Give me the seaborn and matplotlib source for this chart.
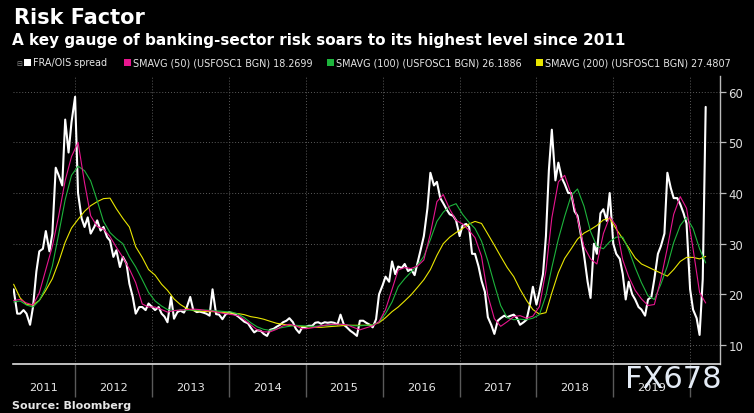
## Risk Factor chart: FRA/OIS spread with its 50/100/200 day moving averages

import pandas as pd
import numpy as np
import seaborn as sns
import matplotlib
matplotlib.use("Agg")
from matplotlib import pyplot as plt
import matplotlib.dates as mdates
from matplotlib.patches import Rectangle

spread_2011 = [21.0, 16.2, 16.2, 16.9, 16.2, 14.0, 17.5, 24.5, 28.5, 29.0, 32.5, 28.5, 32.0, 45.0, 43.5, 41.5, 54.5, 48.0, 54.0]
spread_2012 = [59.0, 40.0, 35.0, 33.3, 35.2, 32.0, 33.3, 34.6, 32.6, 33.3, 31.3, 30.6, 27.4, 28.7, 25.4, 27.4, 26.1, 22.1, 19.5, 16.2, 17.5, 17.5, 16.9, 18.2]
spread_2013 = [17.5, 16.9, 17.5, 16.2, 15.6, 14.5, 19.5, 15.2, 16.5, 16.8, 16.4, 17.5, 19.5, 17.0, 16.5, 16.6, 16.4, 16.2, 15.8, 21.0, 16.1, 16.0, 15.1, 16.0]
spread_2014 = [16.5, 16.3, 16.0, 15.6, 15.1, 14.6, 14.3, 13.4, 12.5, 12.9, 12.8, 12.2, 11.8, 13.0, 13.2, 13.6, 14.0, 14.5, 14.8, 15.3, 14.5, 13.2, 12.4, 13.5]
spread_2015 = [13.6, 13.8, 13.8, 14.4, 14.5, 14.2, 14.5, 14.4, 14.5, 14.4, 14.1, 16.0, 14.0, 13.5, 12.8, 12.4, 11.8, 14.8, 14.8, 14.4, 14.0, 13.5, 15.1, 20.0]
spread_2016 = [21.8, 23.5, 22.5, 26.5, 24.0, 25.5, 25.2, 26.0, 24.6, 25.0, 23.8, 26.2, 29.0, 31.5, 37.0, 44.0, 41.5, 42.2, 39.0, 38.0, 36.7, 35.8, 35.5, 34.6]
spread_2017 = [31.5, 33.6, 33.9, 33.3, 28.0, 28.0, 25.5, 22.7, 20.5, 15.5, 13.9, 12.2, 14.8, 15.3, 15.8, 15.5, 15.8, 16.0, 15.3, 14.0, 14.5, 15.0, 18.0, 21.5]
spread_2018 = [18.0, 20.5, 24.0, 31.5, 44.5, 52.5, 42.5, 46.0, 43.0, 41.8, 40.0, 40.0, 36.4, 35.5, 31.5, 27.8, 22.5, 19.3, 30.0, 28.0, 36.0, 36.8, 34.5, 40.0]
spread_2019 = [30.0, 28.0, 27.0, 24.0, 19.0, 22.5, 20.0, 19.0, 17.5, 17.0, 15.8, 19.0, 19.5, 23.0, 28.0, 29.5, 32.0, 44.0, 41.0, 39.0, 39.0, 37.8, 36.0, 34.0]
spread_2020 = [21.0, 17.0, 15.3, 12.0, 23.0, 57.0]

# moving averages in the middle of every month
sma50_2011 = [18.8, 19.0, 18.3, 17.9, 20.3, 24.9, 29.5, 35.5, 42.5, 47.2]
sma50_2012 = [50.0, 42.0, 35.5, 33.4, 32.9, 31.4, 29.3, 27.3, 25.0, 22.3, 18.1, 17.5]
sma50_2013 = [17.5, 17.0, 16.5, 16.8, 16.9, 17.0, 17.1, 17.0, 16.8, 16.7, 16.4, 16.2]
sma50_2014 = [16.0, 15.8, 15.0, 14.0, 13.0, 12.6, 12.6, 13.1, 13.8, 14.1, 13.8, 13.2]
sma50_2015 = [13.3, 13.5, 13.8, 14.0, 14.1, 14.1, 14.0, 13.5, 13.0, 13.4, 13.8, 14.6]
sma50_2016 = [17.0, 21.0, 24.8, 25.3, 25.1, 25.6, 26.8, 32.0, 38.3, 39.7, 36.8, 34.6]
sma50_2017 = [33.9, 32.6, 31.2, 27.5, 19.8, 15.2, 13.7, 14.6, 15.6, 15.8, 15.3, 15.7]
sma50_2018 = [17.6, 24.7, 35.1, 42.2, 43.5, 39.8, 34.9, 29.4, 27.0, 26.0, 32.0, 35.3]
sma50_2019 = [33.5, 26.8, 23.5, 20.8, 19.1, 17.8, 18.0, 23.0, 29.2, 35.8, 39.3, 37.0]
sma50_2020 = [29.0, 20.4, 18.3]

sma100_2011 = [18.5, 18.7, 17.9, 17.5, 18.8, 21.4, 25.6, 31.9, 38.7, 43.5]
sma100_2012 = [45.3, 44.4, 42.4, 38.5, 34.4, 32.2, 31.0, 30.0, 27.4, 25.4, 22.9, 20.4]
sma100_2013 = [18.7, 17.7, 17.0, 16.8, 16.9, 16.9, 16.9, 16.9, 16.9, 16.8, 16.7, 16.6]
sma100_2014 = [16.5, 16.1, 15.4, 14.4, 13.6, 13.1, 12.9, 13.2, 13.5, 13.7, 13.9, 13.8]
sma100_2015 = [13.7, 13.7, 13.8, 13.9, 14.0, 14.1, 14.0, 13.8, 13.8, 13.9, 14.0, 14.5]
sma100_2016 = [16.2, 18.5, 21.5, 23.1, 24.4, 25.8, 27.5, 30.8, 34.4, 36.2, 37.4, 37.9]
sma100_2017 = [35.8, 34.2, 33.0, 30.5, 26.6, 22.0, 17.8, 15.4, 15.0, 15.1, 15.0, 15.3]
sma100_2018 = [16.0, 19.8, 25.3, 30.9, 35.4, 39.5, 40.8, 37.4, 32.4, 29.5, 29.0, 30.4]
sma100_2019 = [31.3, 31.3, 28.8, 25.3, 22.3, 19.7, 19.0, 22.0, 25.6, 30.2, 33.6, 35.2]
sma100_2020 = [33.0, 29.0, 26.2]

sma200_2011 = [22.0, 19.3, 18.0, 17.9, 18.8, 20.8, 23.1, 26.4, 30.3, 33.1]
sma200_2012 = [34.8, 36.4, 37.5, 38.3, 38.9, 39.0, 36.9, 35.0, 33.3, 29.4, 27.3, 24.9]
sma200_2013 = [23.8, 22.0, 20.8, 19.1, 18.0, 17.2, 16.8, 16.7, 16.6, 16.6, 16.5, 16.4]
sma200_2014 = [16.3, 16.2, 16.0, 15.6, 15.4, 15.1, 14.7, 14.3, 14.1, 13.9, 13.8, 13.7]
sma200_2015 = [13.6, 13.5, 13.5, 13.6, 13.7, 13.8, 13.9, 13.9, 13.9, 13.9, 14.0, 14.4]
sma200_2016 = [15.4, 16.6, 17.5, 18.7, 19.9, 21.4, 22.9, 24.9, 27.7, 30.0, 31.3, 32.2]
sma200_2017 = [33.0, 33.9, 34.4, 34.0, 31.9, 29.7, 27.5, 25.3, 23.5, 21.0, 18.8, 17.0]
sma200_2018 = [16.1, 16.4, 20.3, 24.3, 27.1, 29.0, 30.9, 32.1, 32.8, 33.6, 34.7, 35.0]
sma200_2019 = [32.9, 31.0, 29.2, 27.2, 26.0, 25.4, 24.8, 24.2, 23.6, 24.9, 26.5, 27.3]
sma200_2020 = [27.3, 27.0, 27.5]

legend_labels = ["FRA/OIS spread",
                 "SMAVG (50) (USFOSC1 BGN) 18.2699",
                 "SMAVG (100) (USFOSC1 BGN) 26.1886",
                 "SMAVG (200) (USFOSC1 BGN) 27.4807"]
year_labels = ["2011", "2012", "2013", "2014", "2015", "2016", "2017", "2018", "2019"]
y_ticks = [10, 20, 30, 40, 50, 60]

spread = (spread_2011 + spread_2012 + spread_2013 + spread_2014 + spread_2015
          + spread_2016 + spread_2017 + spread_2018 + spread_2019 + spread_2020)
sma50 = (sma50_2011 + sma50_2012 + sma50_2013 + sma50_2014 + sma50_2015
         + sma50_2016 + sma50_2017 + sma50_2018 + sma50_2019 + sma50_2020)
sma100 = (sma100_2011 + sma100_2012 + sma100_2013 + sma100_2014 + sma100_2015
          + sma100_2016 + sma100_2017 + sma100_2018 + sma100_2019 + sma100_2020)
sma200 = (sma200_2011 + sma200_2012 + sma200_2013 + sma200_2014 + sma200_2015
          + sma200_2016 + sma200_2017 + sma200_2018 + sma200_2019 + sma200_2020)

spread_dates = pd.date_range("2011-03-15", "2020-03-15", freq="SMS")
sma_dates = spread_dates[::2]

df = pd.DataFrame({"date": spread_dates, "spread": spread})
sma = pd.DataFrame({"date": sma_dates, "sma50": sma50, "sma100": sma100, "sma200": sma200})

colors = ["#ffffff", "#e8168f", "#1db43c", "#e9e600"]

sns.set_style("dark")
plt.rcParams["font.family"] = ["DejaVu Sans"]

fig = plt.figure(figsize=(7.54, 4.14), dpi=100, facecolor="black")
ax = fig.add_axes([13 / 754, 1 - 365 / 414, 707 / 754, 288 / 414])
ax.set_facecolor("black")

sns.lineplot(data=df, x="date", y="spread", color=colors[0], lw=1.5, ax=ax)
sns.lineplot(data=sma, x="date", y="sma200", color=colors[3], lw=0.8, ax=ax)
sns.lineplot(data=sma, x="date", y="sma100", color=colors[2], lw=0.8, ax=ax)
sns.lineplot(data=sma, x="date", y="sma50", color=colors[1], lw=0.8, ax=ax)

x_left = pd.Timestamp("2011-03-12")
x_right = pd.Timestamp("2020-05-22")
ax.set_xlim(x_left, x_right)
ax.set_ylim(6.26, 63.1)
ax.set_xlabel("")
ax.set_ylabel("")

# year boundaries as long ticks under the axis, labels centred in each year
year_starts = [mdates.date2num(pd.Timestamp(f"{y}-01-01")) for y in range(2012, 2021)]
label_pos = [(mdates.date2num(x_left) + year_starts[0]) / 2]
label_pos += [mdates.date2num(pd.Timestamp(f"{y}-07-02")) for y in range(2012, 2020)]
ax.set_xticks(year_starts)
ax.set_xticklabels([])
ax.set_xticks(label_pos, minor=True)
ax.set_xticklabels(year_labels, minor=True)
ax.tick_params(axis="x", which="major", bottom=True, length=24, width=1.0,
               color="#5a5a5a", direction="out")
ax.tick_params(axis="x", which="minor", bottom=True, length=0, pad=13,
               labelsize=8.2, labelcolor="#e6e6e6")

ax.yaxis.tick_right()
ax.set_yticks(y_ticks)
ax.tick_params(axis="y", right=True, left=False, length=4, width=0.9, color="#bbbbbb",
               labelsize=8.5, labelcolor="#dddddd", pad=2, direction="out")

ax.grid(True, which="major", color="#5c5c5c", linestyle=(0, (1, 2)), lw=0.7)
ax.grid(False, which="minor")
for side in ["left", "top"]:
    ax.spines[side].set_visible(False)
ax.spines["right"].set_color("#bbbbbb")
ax.spines["right"].set_linewidth(1.0)
ax.spines["bottom"].set_color("#e0e0e0")
ax.spines["bottom"].set_linewidth(1.2)

# titles
fig.text(14 / 754, 1 - 24 / 414, "Risk Factor", fontsize=15.0, fontweight="bold", color="white")
fig.text(12 / 754, 1 - 45 / 414, "A key gauge of banking-sector risk soars to its highest level since 2011",
         fontsize=11.0, fontweight="bold", color="white")

# legend row
leg_y = 1 - 63.5 / 414
fig.text(16 / 754, leg_y, "\u229f", fontsize=5, color="#888888", va="center")
sq_x = [24, 124, 327, 536]
for x0, lab, c in zip(sq_x, legend_labels, colors):
    fig.add_artist(Rectangle((x0 / 754, leg_y - 3.5 / 414), 7 / 754, 7 / 414,
                             transform=fig.transFigure, color=c, lw=0))
    fig.text((x0 + 9) / 754, leg_y, lab, fontsize=6.9, color="#e6e6e6", va="center")

fig.text(12 / 754, 1 - 409 / 414, "Source: Bloomberg", fontsize=8, fontweight="bold", color="#e6e6e6")
# watermark sits over the 2019 label, as in the original
fig.text(625 / 754, 1 - 388 / 414, "FX678", fontsize=22, color="#e4ebf5")

fig.savefig("out.png", dpi=100, facecolor="black")
